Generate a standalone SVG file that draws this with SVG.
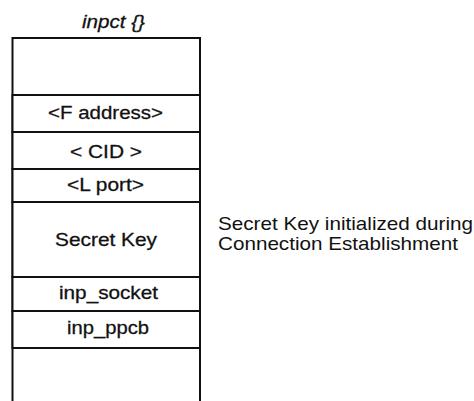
<svg xmlns="http://www.w3.org/2000/svg" width="474" height="401" viewBox="0 0 474 401">
<style>
.f{font-family:"Liberation Sans",Arial,sans-serif;font-size:19px;fill:#111;stroke:#111;stroke-width:0.3}
.n{stroke:none}
.r{fill:#fff;stroke:#111;stroke-width:2}
</style>
<rect width="474" height="401" fill="#fff"/>
<text class="f" x="82" y="28" font-style="italic" font-size="18" textLength="63" lengthAdjust="spacingAndGlyphs">inpct {}</text>
<g id="conn"></g>
<g id="box">
<path d="M12.5 401 V38 H200 V401" fill="none" stroke="#111" stroke-width="2"/>
</g>
<g id="f_address"><rect class="r" x="12.5" y="95" width="187.5" height="37"/><text class="f" x="48" y="119" textLength="115" lengthAdjust="spacingAndGlyphs">&lt;F address&gt;</text></g>
<g id="cid"><rect class="r" x="12.5" y="132" width="187.5" height="37"/><text class="f" x="70" y="158" textLength="72" lengthAdjust="spacingAndGlyphs">&lt; CID &gt;</text></g>
<g id="lport"><rect class="r" x="12.5" y="169" width="187.5" height="33"/><text class="f" x="67" y="191" textLength="77" lengthAdjust="spacingAndGlyphs">&lt;L port&gt;</text></g>
<g id="secret"><rect class="r" x="12.5" y="202" width="187.5" height="75" fill="#fcfcfc"/><text class="f" x="55" y="246" textLength="102" lengthAdjust="spacingAndGlyphs">Secret Key</text></g>
<g id="socket"><rect class="r" x="12.5" y="277" width="187.5" height="34"/><text class="f" x="59" y="299" textLength="99" lengthAdjust="spacingAndGlyphs">inp_socket</text></g>
<g id="ppcb"><rect class="r" x="12.5" y="311" width="187.5" height="37"/><text class="f" x="67" y="334" textLength="82" lengthAdjust="spacingAndGlyphs">inp_ppcb</text></g>
<g id="note"><text class="f n" x="218" y="230" textLength="255" lengthAdjust="spacingAndGlyphs">Secret Key initialized during</text><text class="f n" x="218" y="250" textLength="240" lengthAdjust="spacingAndGlyphs">Connection Establishment</text></g>
</svg>
